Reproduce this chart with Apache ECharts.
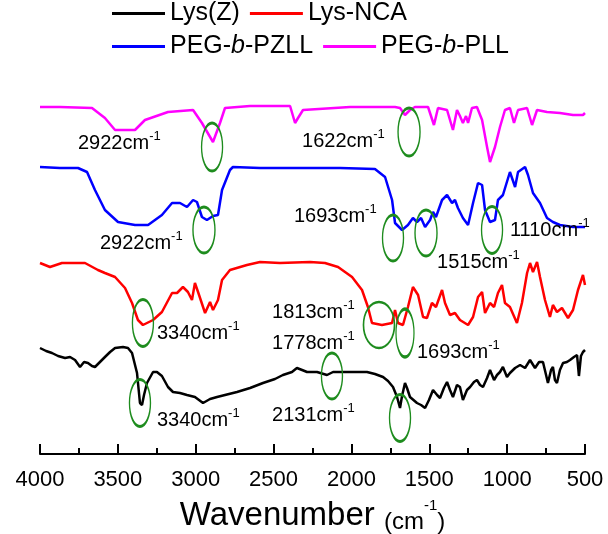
<!DOCTYPE html>
<html>
<head>
<meta charset="utf-8">
<script src="https://cdn.jsdelivr.net/npm/echarts@6/dist/echarts.min.js"></script>
<style>
  html, body { margin: 0; padding: 0; background: #fff; }
  #chart { width: 608px; height: 534px; }
</style>
</head>
<body>
<div id="chart"></div>
<script>
// spectra: [wavenumber, offset intensity]
var lysZ = [
    [4000,106],[3961,103],[3923,101],[3884,98],[3839,96],[3807,97],[3775,94],[3743,87],[3717,92],
    [3692,91],[3666,88],[3647,87],[3615,92],[3583,97],[3550,102],[3518,106],[3467,107],[3435,106],
    [3409,101],[3377,81],[3358,51],[3345,49],[3332,59],[3313,71],[3274,82],[3249,82],[3217,78],
    [3178,67],[3146,62],[3101,61],[3056,59],[3005,57],[2953,51],[2908,55],[2863,57],[2812,59],
    [2735,62],[2651,66],[2568,71],[2491,75],[2440,79],[2382,82],[2350,86],[2317,84],[2285,82],
    [2221,82],[2157,79],[2118,82],[2009,82],[1900,82],[1849,80],[1797,77],[1765,73],[1733,67],
    [1707,57],[1688,46],[1675,58],[1656,71],[1643,66],[1624,57],[1579,51],[1553,49],[1527,46],
    [1502,54],[1476,64],[1450,59],[1431,56],[1406,66],[1386,72],[1367,64],[1348,57],[1322,69],
    [1303,67],[1284,54],[1258,64],[1238,67],[1213,72],[1194,74],[1174,69],[1155,67],[1129,76],
    [1110,84],[1084,74],[1065,79],[1046,82],[1027,87],[1001,77],[982,81],[949,86],[917,89],
    [885,86],[853,94],[821,86],[795,92],[770,92],[750,79],[738,71],[718,84],[706,87],[693,74],
    [680,71],[661,84],[641,91],[616,92],[596,94],[571,97],[551,99],[539,78],[526,98],[513,102],[500,104]
];
var lysNCA = [
    [4000,191],[3936,187],[3859,191],[3711,191],[3628,184],[3583,181],[3518,177],[3454,166],
    [3409,151],[3371,134],[3339,129],[3274,134],[3217,142],[3152,161],[3120,161],[3082,167],
    [3050,162],[3024,154],[3005,171],[2985,162],[2940,141],[2908,152],[2889,144],[2857,154],
    [2831,174],[2780,184],[2671,189],[2587,192],[2459,191],[2266,192],[2170,191],[2086,187],
    [1996,177],[1932,164],[1894,147],[1868,131],[1804,129],[1739,131],[1720,144],[1701,131],
    [1669,129],[1637,147],[1605,167],[1572,159],[1540,137],[1515,136],[1483,151],[1457,147],
    [1418,164],[1399,151],[1367,139],[1335,141],[1303,134],[1251,129],[1219,137],[1187,157],
    [1161,162],[1142,141],[1110,151],[1084,147],[1059,161],[1033,169],[1014,151],[982,147],
    [937,131],[905,151],[872,181],[853,191],[834,182],[808,192],[789,177],[757,154],[725,137],
    [706,149],[680,142],[648,146],[609,136],[577,144],[545,164],[513,179],[500,169]
];
var pegPZLL = [
    [4000,287],[3872,286],[3756,286],[3698,282],[3647,264],[3583,244],[3499,232],[3390,229],
    [3306,229],[3217,239],[3152,251],[3101,251],[3056,247],[3017,254],[2992,252],[2960,237],
    [2928,234],[2889,238],[2857,239],[2831,264],[2780,284],[2761,287],[2587,286],[2330,286],
    [2073,286],[1849,285],[1784,277],[1739,254],[1720,231],[1675,224],[1637,229],[1605,236],
    [1579,232],[1553,236],[1527,227],[1495,234],[1476,242],[1457,237],[1418,254],[1386,259],
    [1354,251],[1335,254],[1316,246],[1284,236],[1251,229],[1219,251],[1187,271],[1161,269],
    [1142,244],[1110,232],[1078,234],[1059,254],[1027,259],[982,282],[949,267],[930,282],
    [885,287],[866,279],[834,261],[789,251],[744,236],[706,232],[661,229],[577,227],[500,227]
];
var pegPLL = [
    [4000,347],[3872,347],[3666,346],[3583,336],[3518,324],[3390,324],[3326,334],[3178,342],
    [3017,344],[2960,331],[2889,312],[2844,331],[2812,346],[2651,348],[2394,348],[2362,331],
    [2343,336],[2311,344],[2009,347],[1720,347],[1688,346],[1656,339],[1624,344],[1592,347],
    [1508,347],[1470,329],[1444,346],[1386,344],[1348,324],[1322,344],[1303,338],[1284,331],
    [1264,338],[1251,331],[1226,346],[1194,347],[1161,334],[1129,307],[1110,292],[1078,307],
    [1046,327],[1014,344],[982,346],[956,331],[930,344],[872,346],[840,329],[808,344],
    [744,342],[661,341],[577,339],[513,339],[500,341]
];
var seriesNames = ['Lys(Z)', 'Lys-NCA', 'PEG-b-PZLL', 'PEG-b-PLL'];
var seriesColors = ['#000000', '#ff0000', '#0000ff', '#ff00ff'];
var xTicks = [500, 1000, 1500, 2000, 2500, 3000, 3500, 4000];

// peak labels: [wavenumber, offset, text]
var peakLabels = [
    [3756,311,'2922'],[2317,313,'1622'],
    [3615,211,'2922'],[2369,238,'1693'],[1450,192,'1515'],[982,224,'1110'],
    [3249,121,'3340'],[2510,142,'1813'],[1579,102,'1693'],
    [2510,111,'1778'],[2510,39,'2131'],[3249,34,'3340']
];
// green ellipses: [wavenumber, offset, width, height]
var peakRings = [
    [2895,307,21,48],[1630,322,22,48],
    [2947,224,22,46],[1733,216,21,46],[1521,221,22,46],[1097,224,21,47],
    [3339,131,21,47],[1823,129,31,46],[1656,121,18,48],
    [2125,78,21,46],[3358,51,21,47],[1688,36,21,47]
];

var font = 'Liberation Sans, Arial, sans-serif';
var chart = echarts.init(document.getElementById('chart'));

var series = [lysZ, lysNCA, pegPZLL, pegPLL].map(function (d, i) {
    return {
        name: seriesNames[i],
        type: 'line',
        data: d,
        symbol: 'none',
        lineStyle: { color: seriesColors[i], width: 2.5 },
        itemStyle: { color: seriesColors[i] },
        z: 3
    };
});

// ellipses + labels as one helper series
series.push({
    name: 'notes',
    type: 'scatter',
    data: peakLabels.map(function (p) { return { value: [p[0], p[1]], text: p[2] }; }),
    symbolSize: 0,
    silent: true,
    itemStyle: { opacity: 1 },
    label: {
        show: true,
        position: 'right',
        distance: 0,
        color: '#000',
        textBorderWidth: 0,
        formatter: function (p) { return '{m|' + p.data.text + 'cm}{s|-1}'; },
        rich: {
            m: { fontSize: 20, fontFamily: font, color: '#000', lineHeight: 26 },
            s: { fontSize: 13, fontFamily: font, color: '#000', verticalAlign: 'top', lineHeight: 14 }
        }
    },
    markPoint: {
        silent: true,
        symbol: 'circle',
        label: { show: false },
        data: peakRings.map(function (r) {
            return {
                coord: [r[0], r[1]],
                symbolSize: [r[2], r[3]],
                itemStyle: { color: 'rgba(0,0,0,0)', borderColor: '#1e8c1e', borderWidth: 2, opacity: 1 }
            };
        })
    },
    z: 5
});

var legendBase = {
    left: 112,
    padding: 0,
    icon: 'rect',
    itemWidth: 53,
    itemHeight: 3,
    itemGap: 10,
    selectedMode: false,
    textStyle: {
        fontSize: 25, fontFamily: font, color: '#000',
        rich: { i: { fontSize: 25, fontFamily: font, color: '#000', fontStyle: 'italic' } }
    },
    formatter: function (name) { return name.replace('-b-', '-{i|b}-'); }
};

chart.setOption({
    backgroundColor: '#fff',
    animation: false,
    legend: [
        Object.assign({}, legendBase, { top: 1, data: seriesNames.slice(0, 2) }),
        Object.assign({}, legendBase, { top: 34, data: seriesNames.slice(2, 4) })
    ],
    grid: { left: 40, right: 23, top: 60, bottom: 80, outerBoundsMode: 'none' },
    xAxis: {
        type: 'value',
        inverse: true,
        min: 500,
        max: 4000,
        interval: 500,
        name: 'Wavenumber {s|(cm}{p|-1}{s|)}',
        nameLocation: 'middle',
        nameGap: 44,
        nameTextStyle: {
            fontSize: 33, fontFamily: font, color: '#000', lineHeight: 36,
            rich: {
                s: { fontSize: 24, fontFamily: font, color: '#000', lineHeight: 33, verticalAlign: 'bottom' },
                p: { fontSize: 15, fontFamily: font, color: '#000', verticalAlign: 'top', lineHeight: 16 }
            }
        },
        axisLine: { show: true, onZero: false, lineStyle: { color: '#000', width: 2 } },
        axisTick: { show: true, inside: true, length: 10, lineStyle: { color: '#000', width: 2 } },
        minorTick: { show: true, splitNumber: 2, length: 6, lineStyle: { color: '#000', width: 2 } },
        axisLabel: {
            margin: 15, fontSize: 22, fontFamily: font, color: '#000',
            formatter: function (v) { return xTicks.indexOf(v) >= 0 ? String(v) : ''; }
        },
        splitLine: { show: false }
    },
    yAxis: {
        type: 'value',
        min: 0,
        max: 394,
        show: false
    },
    series: series
});
</script>
</body>
</html>
